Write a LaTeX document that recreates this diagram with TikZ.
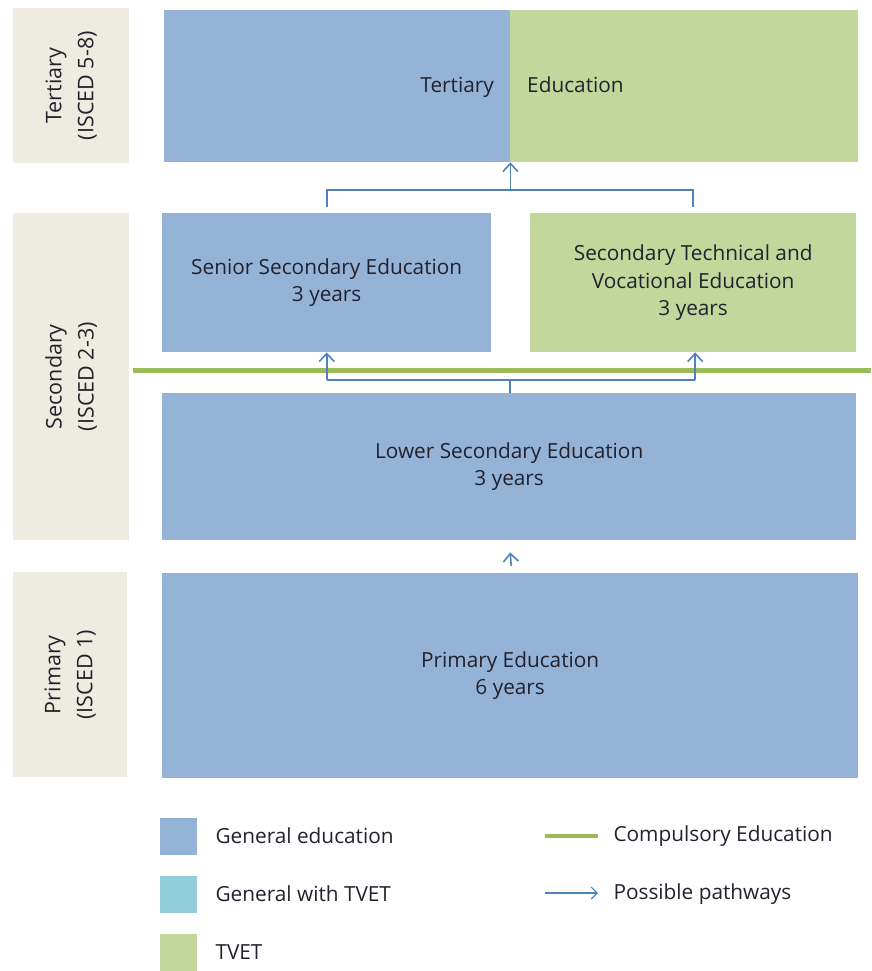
\documentclass[tikz,border=0pt]{standalone}
\usepackage{fontspec}
\setmainfont{Open Sans}
\usetikzlibrary{arrows.meta}
\definecolor{genblue}{HTML}{95B3D7}
\definecolor{tvetgreen}{HTML}{C3D69B}
\definecolor{genteal}{HTML}{92CDDC}
\definecolor{lvlbg}{HTML}{EEECE1}
\definecolor{compgreen}{HTML}{9BBB59}
\definecolor{pathblue}{HTML}{4F81BD}
\definecolor{txtc}{HTML}{22222E}
\begin{document}
\begin{tikzpicture}[x=1pt,y=-1pt,
  every node/.style={font=\fontsize{20.8}{27.5}\selectfont, text=txtc},
  box/.style={anchor=north west, inner sep=0pt, align=center},
  lvl/.style={box, fill=lvlbg},
  gen/.style={box, fill=genblue},
  tv/.style={box, fill=tvetgreen},
  pw/.style={draw=pathblue, line width=1.6pt},
  pwa/.style={pw, -{Straight Barb[length=8pt,width=15pt,line width=1.6pt]}},
  comp/.style={draw=compgreen, line width=5pt},
  lvltxt/.style={rotate=90, align=center, font=\fontsize{21.5}{32}\selectfont}
]
\useasboundingbox (0,0) rectangle (871,971);
% level labels
\node[lvl, minimum width=116pt, minimum height=155pt] (lt) at (13,8) {};
\node[lvl, minimum width=116pt, minimum height=327pt] (ls2) at (13,213) {};
\node[lvl, minimum width=114pt, minimum height=205pt] (lp) at (13,572) {};
\node[lvltxt] at (lt.center) {Tertiary\\(ISCED 5-8)};
\node[lvltxt] at (ls2.center) {Secondary\\(ISCED 2-3)};
\node[lvltxt] at (lp.center) {Primary\\(ISCED 1)};
% tertiary
\node[gen, minimum width=346pt, minimum height=152pt] (tb) at (164,10) {};
\node[tv, minimum width=348pt, minimum height=152pt] (tg) at (510,10) {};
\node[anchor=base east, inner sep=0pt] (tt1) at (494,93) {Tertiary};
\node[anchor=base west, inner sep=0pt] (tt2) at (527,93) {Education};
% secondary
\node[gen, minimum width=329pt, minimum height=139pt] (ss) at (162,213) {Senior Secondary Education\\3 years};
\node[tv, minimum width=326pt, minimum height=139pt] (st) at (530,213) {Secondary Technical and\\Vocational Education\\3 years};
\node[gen, minimum width=694pt, minimum height=147pt] (ls) at (162,393) {Lower Secondary Education\\3 years};
\node[gen, minimum width=696pt, minimum height=205pt] (pe) at (162,573) {Primary Education\\6 years};
% compulsory line
\coordinate (c1) at (133,370);
\coordinate (c2) at (871,370);
\draw[comp] (c1) -- (c2);
% pathways
\draw[pw] ([yshift=6pt]ss.north) -- (ss.north |- 0,190) -- (st.north |- 0,190) -- ([yshift=6pt]st.north);
\draw[pwa] (tb.south east |- 0,190) -- (tb.south east);
\draw[pw] ([xshift=1pt]ls.north) -- ([xshift=1pt]ls.north |- 0,380);
\draw[pw] (ss.south |- 0,380) -- ([xshift=2pt]st.south |- 0,380);
\draw[pwa] (ss.south |- 0,380) -- (ss.south);
\draw[pwa] ([xshift=2pt]st.south |- 0,380) -- ([xshift=2pt]st.south);
\draw[pwa] ([xshift=1pt,yshift=7pt]pe.north) -- ([xshift=1pt,yshift=-12pt]ls.south);
% legend
\node[gen, minimum width=37pt, minimum height=37pt] (lg1) at (160,818) {};
\node[box, fill=genteal, minimum width=37pt, minimum height=37pt] (lg2) at (160,876) {};
\node[tv, minimum width=37pt, minimum height=37pt] (lg3) at (160,934) {};
\node[anchor=west] (lt1) at (212,836) {General education};
\node[anchor=west] (lt2) at (212,894) {General with TVET};
\node[anchor=west] (lt3) at (212,952) {TVET};
\coordinate (lc1) at (545,836);
\coordinate (lc2) at (598,836);
\draw[draw=compgreen, line width=4pt] (lc1) -- (lc2);
\coordinate (la1) at (545,893);
\coordinate (la2) at (598,893);
\draw[draw=pathblue, line width=1.2pt, -{Straight Barb[length=6pt,width=12pt,line width=1.2pt]}] (la1) -- (la2);
\node[anchor=west] (lt4) at (610,836) {Compulsory Education};
\node[anchor=west] (lt5) at (610,894) {Possible pathways};
\end{tikzpicture}
\end{document}
